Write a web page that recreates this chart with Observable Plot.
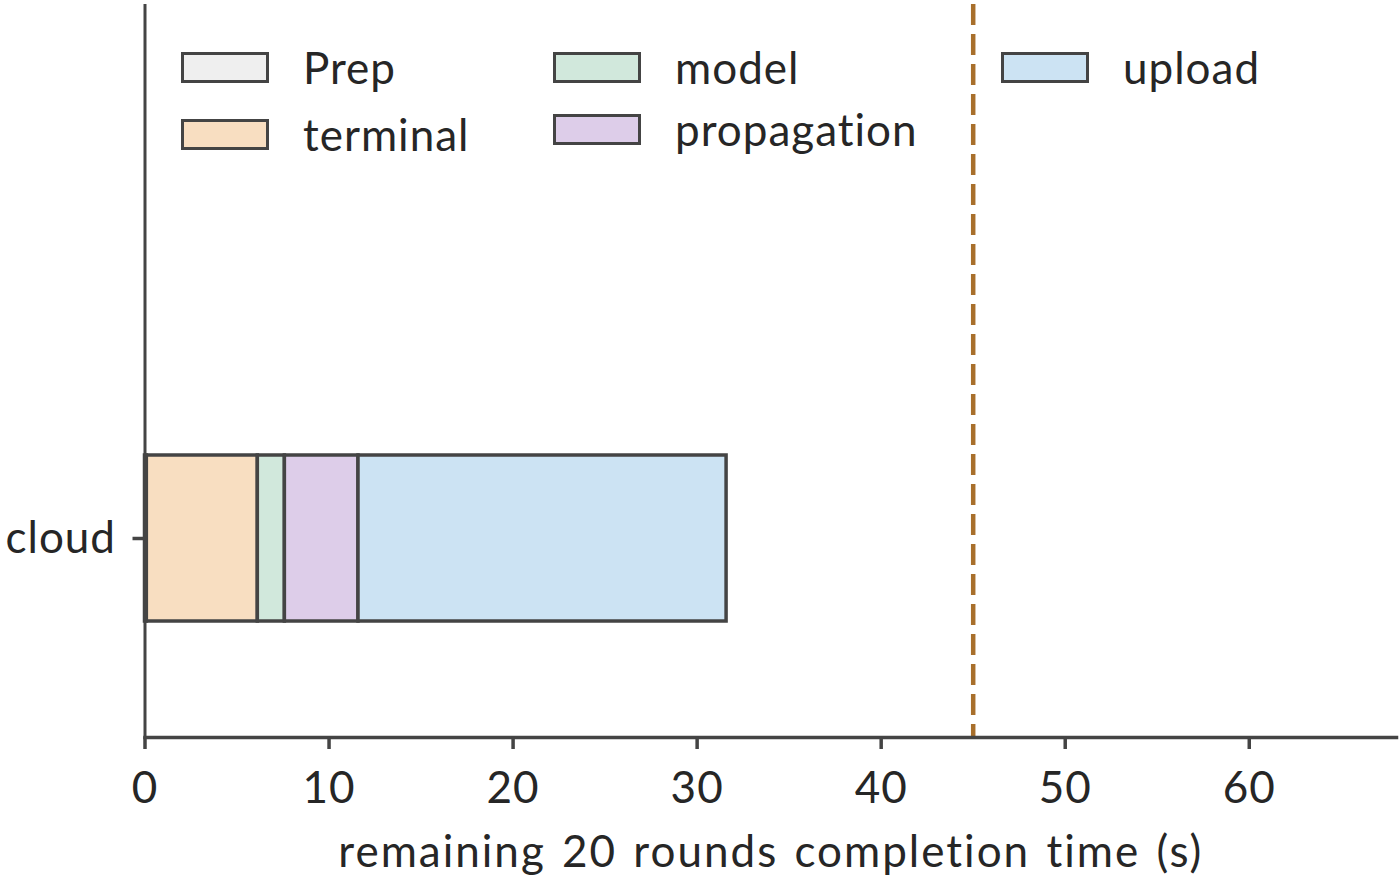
<!DOCTYPE html>
<html>
<head>
<meta charset="utf-8">
<script src="https://cdn.jsdelivr.net/npm/d3@7"></script>
<script src="https://cdn.jsdelivr.net/npm/@observablehq/plot@0.6"></script>
<style>
  html, body { margin: 0; padding: 0; background: #fff; }
  #wrap { position: relative; width: 1400px; height: 881px; font-family: Lato, "Noto Sans", sans-serif; }
  #wrap svg { position: absolute; left: 0; top: 0; letter-spacing: 1px; }
  #wrap svg [aria-label="x-axis label"] text { letter-spacing: 2px; word-spacing: 3px; }
  .lg { position: absolute; display: flex; align-items: center; font-size: 44px; letter-spacing: 1px; color: #262626; white-space: nowrap; }
  .lg .sw { width: 82px; height: 25px; border: 3px solid #444; margin-right: 34px; }
</style>
</head>
<body>
<div id="wrap"></div>
<script>
// data
const categories = ["cloud"];
const stages = ["Prep", "terminal", "model", "propagation", "upload"];
const durations = [0.1, 6.03, 1.47, 4.0, 20.0];
const stageColors = ["#efefef", "#f8dec1", "#d1e8dc", "#ddcde9", "#cce3f3"];
const deadline = [45];
const xTicks = [0, 10, 20, 30, 40, 50, 60];
const xDomain = [0, 68];
const xLabel = "remaining 20 rounds completion time (s)";

const rows = stages.map((s, i) => ({category: categories[0], stage: s, value: durations[i]}));

const W = 1400, H = 881;
const mL = 144.5, mT = 4, mR = 4, mB = 144;

const chart = Plot.plot({
  width: W, height: H,
  marginLeft: mL, marginTop: mT, marginRight: mR, marginBottom: mB,
  style: {fontFamily: "Lato, 'Noto Sans', sans-serif", fontSize: "44px", color: "#262626", background: "white"},
  x: {domain: xDomain},
  y: {domain: categories, range: [454.7, 620.7], padding: 0},
  color: {domain: stages, range: stageColors},
  marks: [
    Plot.barX(rows, Plot.stackX({x: "value", y: "category", fill: "stage", order: null,
      stroke: "#444", strokeWidth: 3.5})),
    Plot.ruleX(deadline, {stroke: "#a86f2b", strokeWidth: 4.5, strokeDasharray: "21,9"}),
    Plot.ruleX([0], {stroke: "#444", strokeWidth: 3}),
    Plot.frame({anchor: "bottom", stroke: "#444", strokeWidth: 3.5}),
    Plot.axisX({ticks: xTicks, tickSize: 12, tickPadding: 22, tickFormat: d3.format("d"),
      stroke: "#444", strokeWidth: 3.5, label: xLabel, labelAnchor: "center", labelOffset: 129, labelArrow: "none"}),
    Plot.axisY({tickSize: 12, tickPadding: 17, stroke: "#444", strokeWidth: 3.5, label: null})
  ]
});
const wrap = document.getElementById("wrap");
wrap.appendChild(chart);

// legend (HTML overlay, frameless)
const legendPos = [
  {left: 181, top: 51}, {left: 181, top: 118},
  {left: 553, top: 51}, {left: 553, top: 113},
  {left: 1001, top: 51}
];
stages.forEach((s, i) => {
  const d = document.createElement("div");
  d.className = "lg";
  d.style.left = legendPos[i].left + "px";
  d.style.top = (legendPos[i].top - 20) + "px";
  d.style.height = "72px";
  const sw = document.createElement("div");
  sw.className = "sw";
  sw.style.background = stageColors[i];
  const t = document.createElement("span");
  t.textContent = s;
  d.appendChild(sw); d.appendChild(t);
  wrap.appendChild(d);
});
</script>
</body>
</html>
